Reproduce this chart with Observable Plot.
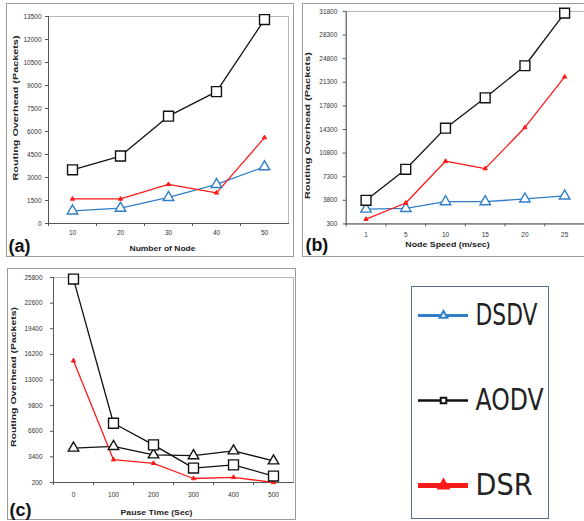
<!DOCTYPE html>
<html><head><meta charset="utf-8">
<script src="https://cdn.jsdelivr.net/npm/d3@7"></script>
<script src="https://cdn.jsdelivr.net/npm/@observablehq/plot@0.6"></script>
<style>
html,body{margin:0;padding:0;background:#fff;overflow:hidden;width:584px;height:521px;position:relative;}
.panel{position:absolute;}
.frame{position:absolute;border:1.5px solid #9a9a9a;box-sizing:border-box;}
.legend{position:absolute;border:1.5px solid #5a6e8c;box-sizing:border-box;}
svg{display:block;overflow:visible;}
</style></head><body>
<script>
// ---- data ----
const seriesNames = ["DSDV", "AODV", "DSR"];

// (a) Number of Node
const nodeCounts = [10, 20, 30, 40, 50];
const aDSDV = [820, 1000, 1700, 2550, 3700];
const aAODV = [3500, 4400, 7000, 8600, 13300];
const aDSR  = [1600, 1600, 2550, 2000, 5600];
const aTicks = [0, 1500, 3000, 4500, 6000, 7500, 9000, 10500, 12000, 13500];

// (b) Node Speed (m/sec)
const nodeSpeeds = [1, 5, 10, 15, 20, 25];
const bDSDV = [2500, 2600, 3600, 3600, 4000, 4450];
const bAODV = [3800, 8400, 14500, 19000, 23750, 31550];
const bDSR  = [1000, 3400, 9600, 8500, 14600, 22100];
const bTicks = [300, 3800, 7300, 10800, 14300, 17800, 21300, 24800, 28300, 31800];

// (c) Pause Time (Sec)
const pauseTimes = [0, 100, 200, 300, 400, 500];
const cDSDV = [4500, 4700, 3650, 3550, 4150, 2900];
const cAODV = [25600, 7600, 4900, 2000, 2400, 1000];
const cDSR  = [15400, 3050, 2600, 700, 850, 200];
const cTicks = [200, 3400, 6600, 9800, 13000, 16200, 19400, 22600, 25800];

const yTitle = "Routing Overhead (Packets)";

const BLUE = "#2f7fc8", RED = "#ff1a1a", BLACK = "#111";

function rows(cats, vals) {
  const out = [];
  seriesNames.forEach((s, i) => cats.forEach((c, j) => out.push({series: s, x: c, y: vals[i][j]})));
  return out;
}

function panel(cfg) {
  const {cats, vals, colors, yTicks, xTitle, letter, box, m} = cfg;
  const data = rows(cats, vals);
  const W = box.width, H = box.height;
  const step = (W - m.left - m.right) / cats.length;
  const sty = {
    DSDV: {symbol: "triangle", r: 3.9, fill: "white", stroke: colors.DSDV, sw: 1.4},
    AODV: {symbol: "square", r: 5.6, fill: "white", stroke: BLACK, sw: 1.4},
    DSR:  {symbol: "triangle", r: 1.6, fill: RED, stroke: RED, sw: 1}
  };
  const marks = [
    Plot.frame({stroke: "#b8b8b8", strokeWidth: 1}),
    Plot.axisY({ticks: yTicks, tickSize: 3, tickPadding: cfg.yPad, tickFormat: d => String(d), label: null,
      fontSize: 6.5, fill: "#333", stroke: "#555", fontFamily: "Liberation Sans, Arial, sans-serif"}),
    Plot.axisX({tickSize: 0, tickPadding: cfg.xPad, label: null, fontSize: 6.5, fill: "#333",
      fontFamily: "Liberation Sans, Arial, sans-serif"}),
    Plot.axisX({tickSize: 3, tickFormat: () => "", label: null, dx: -step / 2, stroke: "#555"}),
    Plot.frame({anchor: "left", stroke: "#555", strokeWidth: 1}),
    Plot.frame({anchor: "bottom", stroke: "#555", strokeWidth: 1})
  ];
  for (const s of ["DSDV", "DSR", "AODV"]) {
    const d = data.filter(r => r.series === s);
    marks.push(Plot.line(d, {x: "x", y: "y", stroke: s === "AODV" ? BLACK : (s === "DSR" ? RED : colors.DSDV), strokeWidth: 1.3}));
  }
  for (const s of ["DSDV", "DSR", "AODV"]) {
    const d = data.filter(r => r.series === s);
    const st = sty[s];
    marks.push(Plot.dot(d, {x: "x", y: "y", symbol: st.symbol, r: st.r, fill: st.fill, stroke: st.stroke, strokeWidth: st.sw}));
  }
  marks.push(
    Plot.text([yTitle], {frameAnchor: "left", textAnchor: "middle", rotate: -90, dx: cfg.yl.dx, dy: cfg.yl.dy, fontWeight: "bold",
      fontSize: 8, fill: "#222", fontFamily: "Liberation Sans, Arial, sans-serif"}),
    Plot.text([xTitle], {frameAnchor: "bottom", textAnchor: "middle", dx: cfg.xt.dx, dy: cfg.xt.dy, fontWeight: "bold", fontSize: 8,
      fill: "#222", fontFamily: "Liberation Sans, Arial, sans-serif"}),
    Plot.text([letter], {frameAnchor: "bottom-left", dx: -m.left + cfg.lt.dx, dy: cfg.lt.dy, textAnchor: "start",
      lineAnchor: "bottom", fontWeight: "bold", fontSize: 18, fill: "#111", fontFamily: "Liberation Sans, Arial, sans-serif"})
  );
  const svg = Plot.plot({
    width: W, height: H,
    marginLeft: m.left, marginRight: m.right, marginTop: m.top, marginBottom: m.bottom,
    x: {type: "point", domain: cats, padding: 0.5},
    y: {domain: [yTicks[0], yTicks[yTicks.length - 1]]},
    style: {background: "transparent"},
    marks
  });
  const sel = d3.select(svg);
  sel.selectAll("text").filter(function () { return this.textContent === yTitle; })
    .attr("textLength", cfg.yl.len).attr("lengthAdjust", "spacingAndGlyphs");
  sel.selectAll("text").filter(function () { return this.textContent === xTitle; })
    .attr("textLength", cfg.xt.len).attr("lengthAdjust", "spacingAndGlyphs");
  const fr = document.createElement("div");
  fr.className = "frame";
  Object.assign(fr.style, {left: cfg.frame[0] + "px", top: cfg.frame[1] + "px", width: cfg.frame[2] + "px", height: cfg.frame[3] + "px"});
  document.body.appendChild(fr);
  const div = document.createElement("div");
  div.className = "panel";
  div.style.left = box.left + "px";
  div.style.top = box.top + "px";
  div.appendChild(svg);
  document.body.appendChild(div);
}

panel({
  cats: nodeCounts, vals: [aDSDV, aAODV, aDSR], colors: {DSDV: BLUE}, yTicks: aTicks,
  xTitle: "Number of Node", letter: "(a)",
  box: {left: 7, top: 4, width: 286, height: 252}, m: {left: 41, right: 5, top: 12, bottom: 33},
  frame: [6, 3, 288, 254],
  yPad: 4, xPad: 7,
  yl: {dx: -33, dy: -12, len: 145}, xt: {dx: -6, dy: 27, len: 66}, lt: {dx: 1, dy: 28}
});
panel({
  cats: nodeSpeeds, vals: [bDSDV, bAODV, bDSR], colors: {DSDV: BLUE}, yTicks: bTicks,
  xTitle: "Node Speed (m/sec)", letter: "(b)",
  box: {left: 303, top: 4, width: 283, height: 252}, m: {left: 43, right: 0, top: 7, bottom: 31},
  frame: [302, 3, 290, 254],
  yPad: 6, xPad: 9,
  yl: {dx: -39, dy: 8, len: 148}, xt: {dx: -18, dy: 23.5, len: 85}, lt: {dx: 2, dy: 27}
});
panel({
  cats: pauseTimes, vals: [cDSDV, cAODV, cDSR], colors: {DSDV: BLACK}, yTicks: cTicks,
  xTitle: "Pause Time (Sec)", letter: "(c)",
  box: {left: 8, top: 269, width: 287, height: 250}, m: {left: 45, right: 2, top: 8, bottom: 37},
  frame: [7, 268, 289, 252],
  yPad: 8, xPad: 10,
  yl: {dx: -40, dy: -3, len: 140}, xt: {dx: -17, dy: 32.5, len: 72}, lt: {dx: 1, dy: 33}
});

// ---- legend ----
const legendRows = [
  {name: "DSDV", color: BLUE, symbol: "triangle", r: 3.6, fill: "white", lw: 3, len: 62},
  {name: "AODV", color: BLACK, symbol: "square", r: 4.3, fill: "white", lw: 2.5, len: 68},
  {name: "DSR", color: RED, symbol: "triangle", r: 6.5, fill: RED, lw: 5, len: 57}
];
const lg = document.createElement("div");
lg.className = "legend";
Object.assign(lg.style, {left: "411px", top: "286px", width: "138px", height: "233px"});
const legendSvg = Plot.plot({
  width: 135, height: 230, margin: 0,
  x: {domain: [0, 1], range: [6, 56], axis: null},
  y: {type: "point", domain: legendRows.map(d => d.name), range: [28, 198], padding: 0, axis: null},
  style: {background: "transparent"},
  marks: [
    Plot.ruleY(legendRows, {y: "name", x1: () => 0, x2: () => 1, stroke: "color", strokeWidth: "lw"}),
    Plot.dot(legendRows, {x: () => 0.5, y: "name", symbol: "symbol", r: "r", fill: "fill", stroke: "color", strokeWidth: 2}),
    Plot.text(legendRows, {x: () => 1, y: "name", text: "name", dx: 7, textAnchor: "start", fontSize: 30,
      fill: "#222", fontFamily: "Liberation Sans Narrow, DejaVu Sans Condensed, Arial Narrow, sans-serif"})
  ]
});
d3.select(legendSvg).selectAll("text").each(function () {
  const row = legendRows.find(r => r.name === this.textContent);
  if (row) d3.select(this).attr("textLength", row.len).attr("lengthAdjust", "spacingAndGlyphs");
});
lg.appendChild(legendSvg);
document.body.appendChild(lg);
</script>
</body></html>
